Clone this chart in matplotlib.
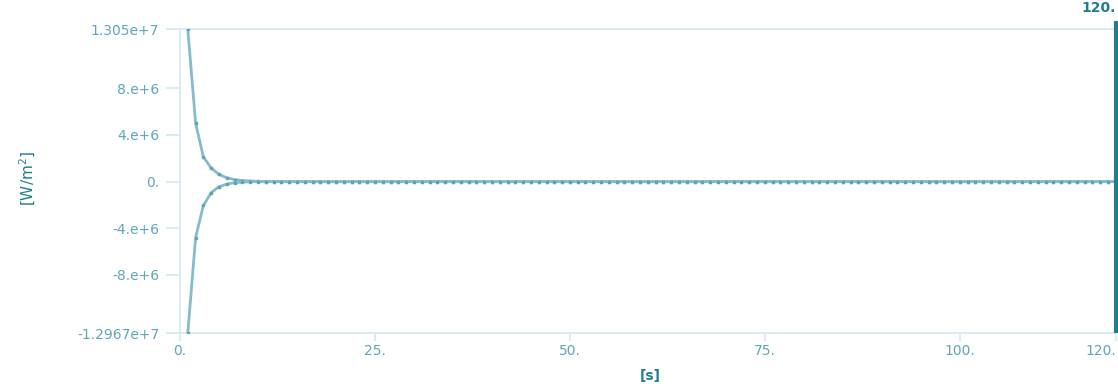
import numpy as np
import matplotlib
matplotlib.use("Agg")
import matplotlib.pyplot as plt
from matplotlib import transforms

# time steps [s]
t = list(range(1, 121))

# flux on the two faces, large at start then settling to zero
upper_head = [1.305e7, 5.0e6, 2.1e6, 1.15e6, 6.0e5, 3.2e5, 1.6e5, 8.0e4, 4.0e4, 2.0e4]
lower_head = [-1.2967e7, -4.8e6, -2.05e6, -9.5e5, -4.5e5, -2.2e5, -1.0e5, -5.0e4, -2.5e4, -1.2e4]
upper = upper_head + [0.0] * (len(t) - len(upper_head))
lower = lower_head + [0.0] * (len(t) - len(lower_head))

yticks = [-1.2967e7, -8e6, -4e6, 0.0, 4e6, 8e6, 1.305e7]
ytick_labels = ["-1.2967e+7", "-8.e+6", "-4.e+6", "0.", "4.e+6", "8.e+6", "1.305e+7"]
xticks = [0, 25, 50, 75, 100, 120]
xtick_labels = ["0.", "25.", "50.", "75.", "100.", "120."]
cursor_t = 120

line_col = "#84bccb"
mark_col = "#5fa3b5"
label_col = "#5ea6b8"
dark_col = "#1f7d92"
frame_col = "#dbecf1"

fig = plt.figure(figsize=(11.18, 3.87), dpi=100)
ax = fig.add_axes([0.161, 0.1395, 0.837, 0.7855])

for series in (upper, lower):
    ax.plot(t, series, color=line_col, lw=2.0, marker="s", ms=2.0,
            mfc=mark_col, mec=mark_col, zorder=3)

ax.set_xlim(0, 120)
ax.set_ylim(yticks[0], yticks[-1])

ax.set_yticks(yticks)
ax.set_yticklabels(ytick_labels)
ax.set_xticks(xticks)
ax.set_xticklabels(xtick_labels)
ax.tick_params(axis="both", colors=frame_col, labelcolor=label_col,
               labelsize=10, width=1.5)
ax.tick_params(axis="y", length=10, pad=5)
ax.tick_params(axis="x", length=6, pad=2)
ax.get_xticklabels()[-1].set_ha("right")

for side in ("top", "bottom", "left"):
    ax.spines[side].set_color(frame_col)
    ax.spines[side].set_linewidth(1.5)
ax.spines["right"].set_visible(False)

# cursor line at the current time
trans = transforms.blended_transform_factory(ax.transData, ax.transAxes)
ax.plot([cursor_t, cursor_t], [0, 1.025], transform=trans, color=dark_col,
        lw=3, clip_on=False, zorder=5, solid_capstyle="butt")
ax.text(cursor_t, 1.045, xtick_labels[-1], transform=trans, ha="right",
        va="bottom", color=dark_col, fontsize=10, fontweight="bold")

ax.set_ylabel("[W/m$^2$]", color=dark_col, fontsize=11)
ax.yaxis.set_label_coords(-0.152, 0.51)
ax.set_xlabel("[s]", color=dark_col, fontsize=10, fontweight="bold")
ax.xaxis.set_label_coords(0.502, -0.12)

fig.savefig("out.png", dpi=100)
